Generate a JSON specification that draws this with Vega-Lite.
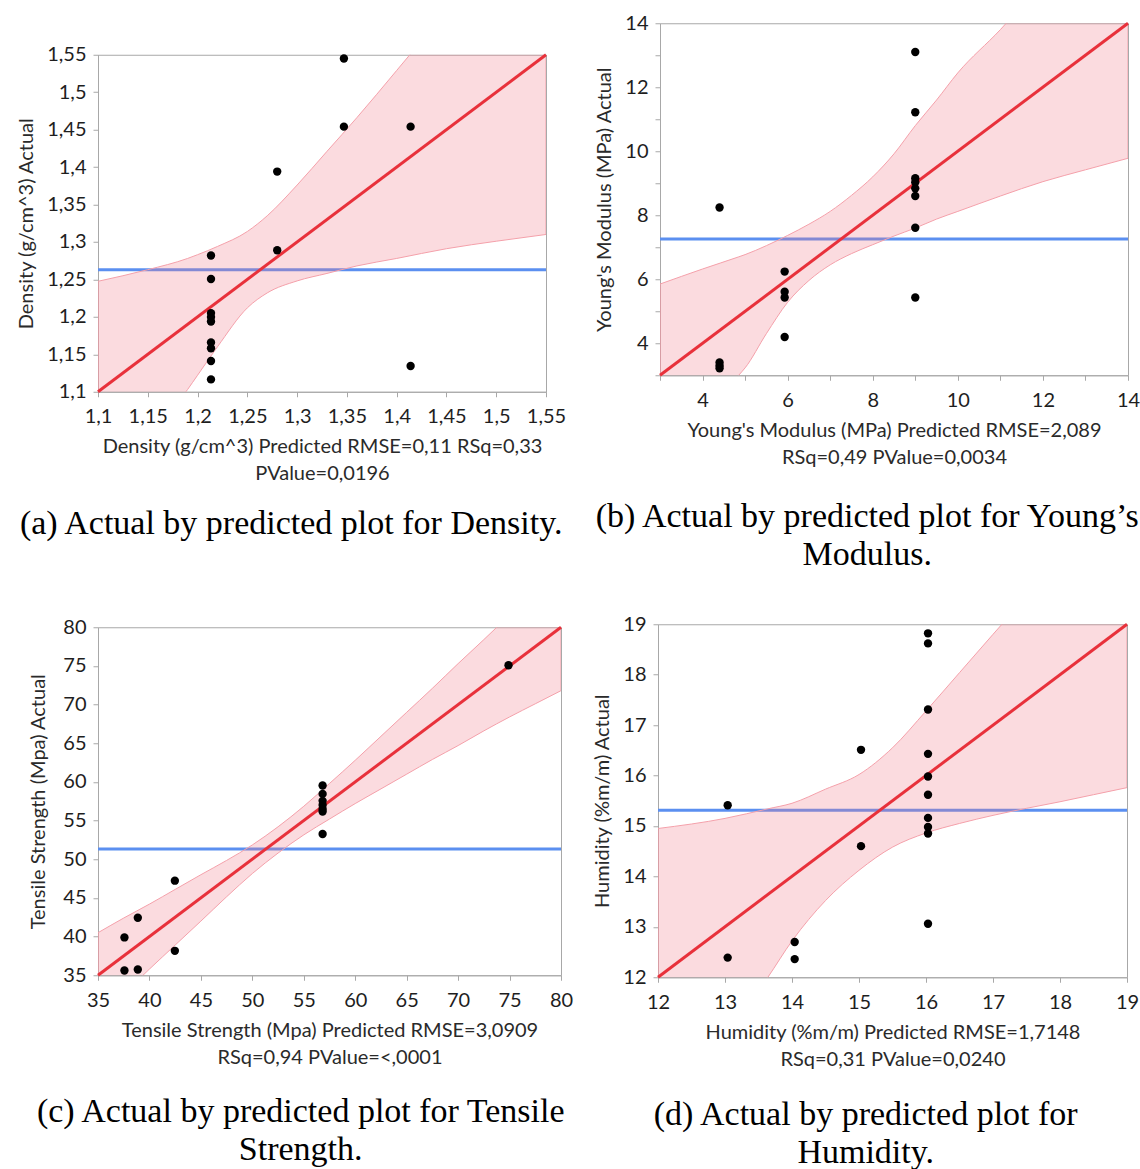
{
  "$schema": "https://vega.github.io/schema/vega-lite/v6.json",
  "padding": {"left": 16, "top": 12, "right": 0, "bottom": 0},
  "background": "white",
  "datasets": {
    "a_mean": [{"x": 1.1, "y": 1.263}, {"x": 1.55, "y": 1.263}],
    "a_diag": [{"x": 1.1, "y": 1.1}, {"x": 1.55, "y": 1.55}],
    "a_band": [
      {"x": 1.1, "y": 0.95, "hi": 1.2475}, {"x": 1.15, "y": 1.037, "hi": 1.263}, {"x": 1.19, "y": 1.103, "hi": 1.278},
      {"x": 1.2, "y": 1.122, "hi": 1.283}, {"x": 1.22, "y": 1.16, "hi": 1.294}, {"x": 1.25, "y": 1.212, "hi": 1.314},
      {"x": 1.27, "y": 1.232, "hi": 1.335}, {"x": 1.3, "y": 1.248, "hi": 1.376}, {"x": 1.33, "y": 1.258, "hi": 1.421},
      {"x": 1.36, "y": 1.268, "hi": 1.466}, {"x": 1.4, "y": 1.278, "hi": 1.529}, {"x": 1.45, "y": 1.291, "hi": 1.61},
      {"x": 1.5, "y": 1.301, "hi": 1.7}, {"x": 1.55, "y": 1.31, "hi": 1.79}
    ],
    "a_pts": [
      {"x": 1.347, "y": 1.545}, {"x": 1.347, "y": 1.454}, {"x": 1.414, "y": 1.454}, {"x": 1.28, "y": 1.394},
      {"x": 1.28, "y": 1.289}, {"x": 1.2135, "y": 1.282}, {"x": 1.2135, "y": 1.2506}, {"x": 1.2135, "y": 1.205},
      {"x": 1.2135, "y": 1.1997}, {"x": 1.2135, "y": 1.1938}, {"x": 1.2135, "y": 1.1657}, {"x": 1.2135, "y": 1.158},
      {"x": 1.2135, "y": 1.1411}, {"x": 1.2135, "y": 1.1165}, {"x": 1.414, "y": 1.1344}
    ],
    "b_mean": [{"x": 3, "y": 7.257}, {"x": 14, "y": 7.257}],
    "b_diag": [{"x": 3, "y": 3}, {"x": 14, "y": 14}],
    "b_band": [
      {"x": 3, "y": 0.15, "hi": 5.85}, {"x": 4, "y": 1.68, "hi": 6.32}, {"x": 4.85, "y": 3.0, "hi": 6.7},
      {"x": 5, "y": 3.23, "hi": 6.77}, {"x": 5.5, "y": 4.3, "hi": 7.05}, {"x": 6, "y": 5.28, "hi": 7.37},
      {"x": 6.5, "y": 5.96, "hi": 7.72}, {"x": 7, "y": 6.45, "hi": 8.12}, {"x": 7.5, "y": 6.8, "hi": 8.62},
      {"x": 8, "y": 7.08, "hi": 9.2}, {"x": 8.5, "y": 7.35, "hi": 9.92}, {"x": 9, "y": 7.6, "hi": 10.8},
      {"x": 9.5, "y": 7.88, "hi": 11.6}, {"x": 10, "y": 8.12, "hi": 12.45}, {"x": 11, "y": 8.6, "hi": 13.8},
      {"x": 12, "y": 9.05, "hi": 15.3}, {"x": 13, "y": 9.42, "hi": 16.75}, {"x": 14, "y": 9.78, "hi": 18.2}
    ],
    "b_pts": [
      {"x": 9.0, "y": 13.1}, {"x": 9.0, "y": 11.22}, {"x": 9.0, "y": 9.155}, {"x": 9.0, "y": 9.03},
      {"x": 9.0, "y": 8.84}, {"x": 9.0, "y": 8.6}, {"x": 9.0, "y": 7.61}, {"x": 9.0, "y": 5.43},
      {"x": 4.4, "y": 8.243}, {"x": 5.93, "y": 6.24}, {"x": 5.93, "y": 5.61}, {"x": 5.93, "y": 5.43},
      {"x": 5.93, "y": 4.195}, {"x": 4.4, "y": 3.4}, {"x": 4.4, "y": 3.3}, {"x": 4.4, "y": 3.22}
    ],
    "c_mean": [{"x": 35, "y": 51.33}, {"x": 80, "y": 51.33}],
    "c_diag": [{"x": 35, "y": 35}, {"x": 80, "y": 80}],
    "c_band": [
      {"x": 35, "y": 29.5, "hi": 40.5}, {"x": 37.5, "y": 32.6, "hi": 42.4}, {"x": 40, "y": 35.8, "hi": 44.2},
      {"x": 42.5, "y": 38.9, "hi": 46.1}, {"x": 45, "y": 42.0, "hi": 48.0}, {"x": 47.5, "y": 45.15, "hi": 49.85},
      {"x": 50, "y": 48.15, "hi": 51.85}, {"x": 52.5, "y": 50.8, "hi": 54.2}, {"x": 55, "y": 53.15, "hi": 56.85},
      {"x": 57.5, "y": 55.2, "hi": 59.8}, {"x": 60, "y": 57.2, "hi": 62.8}, {"x": 62.5, "y": 59.1, "hi": 65.9},
      {"x": 65, "y": 61.0, "hi": 69.0}, {"x": 67.5, "y": 62.9, "hi": 72.1}, {"x": 70, "y": 64.7, "hi": 75.3},
      {"x": 72.5, "y": 66.6, "hi": 78.4}, {"x": 75, "y": 68.4, "hi": 81.6}, {"x": 77.5, "y": 70.1, "hi": 84.9},
      {"x": 80, "y": 71.8, "hi": 88.2}
    ],
    "c_pts": [
      {"x": 74.9, "y": 75.08}, {"x": 56.83, "y": 59.53}, {"x": 56.83, "y": 58.45}, {"x": 56.83, "y": 57.55},
      {"x": 56.83, "y": 57.03}, {"x": 56.83, "y": 56.51}, {"x": 56.83, "y": 56.17}, {"x": 56.83, "y": 53.27},
      {"x": 42.47, "y": 47.23}, {"x": 42.47, "y": 38.16}, {"x": 38.87, "y": 42.44}, {"x": 38.87, "y": 35.74},
      {"x": 37.57, "y": 39.89}, {"x": 37.57, "y": 35.61}
    ],
    "d_mean": [{"x": 12, "y": 15.31}, {"x": 19, "y": 15.31}],
    "d_diag": [{"x": 12, "y": 12}, {"x": 19, "y": 19}],
    "d_band": [
      {"x": 12, "y": 9.05, "hi": 14.95}, {"x": 13, "y": 10.85, "hi": 15.15}, {"x": 13.64, "y": 12.0, "hi": 15.34},
      {"x": 14, "y": 12.72, "hi": 15.45}, {"x": 14.5, "y": 13.52, "hi": 15.73}, {"x": 15, "y": 14.12, "hi": 16.02},
      {"x": 15.5, "y": 14.58, "hi": 16.55}, {"x": 16, "y": 14.86, "hi": 17.28}, {"x": 16.5, "y": 15.05, "hi": 18.04},
      {"x": 17, "y": 15.21, "hi": 18.8}, {"x": 17.5, "y": 15.35, "hi": 19.55}, {"x": 18, "y": 15.48, "hi": 20.3},
      {"x": 18.5, "y": 15.62, "hi": 21.1}, {"x": 19, "y": 15.76, "hi": 21.8}
    ],
    "d_pts": [
      {"x": 16.03, "y": 18.82}, {"x": 16.03, "y": 18.62}, {"x": 16.03, "y": 17.31}, {"x": 16.03, "y": 16.43},
      {"x": 16.03, "y": 15.98}, {"x": 16.03, "y": 15.62}, {"x": 16.03, "y": 15.16}, {"x": 16.03, "y": 14.98},
      {"x": 16.03, "y": 14.85}, {"x": 16.03, "y": 13.06}, {"x": 15.03, "y": 16.51}, {"x": 15.03, "y": 14.6},
      {"x": 13.04, "y": 15.41}, {"x": 13.04, "y": 12.39}, {"x": 14.04, "y": 12.7}, {"x": 14.04, "y": 12.36}
    ]
  },
  "concat": [
    {
      "hconcat": [
        {
          "width": 448, "height": 337,
          "title": {"text": "(a) Actual by predicted plot for Density."},
          "encoding": {
            "x": {"field": "x", "type": "quantitative", "scale": {"domain": [1.1, 1.55], "nice": false, "zero": false},
                  "axis": {"title": ["Density (g/cm^3) Predicted RMSE=0,11 RSq=0,33", "PValue=0,0196"],
                           "values": [1.1, 1.15, 1.2, 1.25, 1.3, 1.35, 1.4, 1.45, 1.5, 1.55],
                           "labelExpr": "replace(format(datum.value, '.2~f'), '.', ',')"}},
            "y": {"field": "y", "type": "quantitative", "scale": {"domain": [1.1, 1.55], "nice": false, "zero": false},
                  "axis": {"title": "Density (g/cm^3) Actual",
                           "values": [1.1, 1.15, 1.2, 1.25, 1.3, 1.35, 1.4, 1.45, 1.5, 1.55],
                           "labelExpr": "replace(format(datum.value, '.2~f'), '.', ',')"}}
          },
          "layer": [
            {"data": {"name": "a_mean"}, "mark": {"type": "line", "color": "#5b8ff0", "strokeWidth": 3}, "encoding": {}},
            {"data": {"name": "a_band"}, "mark": {"type": "area", "clip": true, "interpolate": "monotone", "fill": "#f07a8a", "fillOpacity": 0.27, "stroke": "#f4a0aa", "strokeWidth": 1},
             "encoding": {"y2": {"field": "hi"}}},
            {"data": {"name": "a_diag"}, "mark": {"type": "line", "color": "#e8313b", "strokeWidth": 3}, "encoding": {}},
            {"data": {"name": "a_pts"}, "mark": {"type": "circle", "size": 70, "color": "black", "opacity": 1}}
          ]
        },
        {
          "width": 468, "height": 352,
          "title": {"text": ["(b) Actual by predicted plot for Young’s", "Modulus."], "offset": 33},
          "encoding": {
            "x": {"field": "x", "type": "quantitative", "scale": {"domain": [3, 14], "nice": false, "zero": false},
                  "axis": {"title": ["Young's Modulus (MPa) Predicted RMSE=2,089", "RSq=0,49 PValue=0,0034"],
                           "values": [3, 4, 5, 6, 7, 8, 9, 10, 11, 12, 13, 14],
                           "labelExpr": "datum.value % 2 == 0 ? datum.label : ''"}},
            "y": {"field": "y", "type": "quantitative", "scale": {"domain": [3, 14], "nice": false, "zero": false},
                  "axis": {"title": "Young's Modulus (MPa) Actual",
                           "values": [3, 4, 5, 6, 7, 8, 9, 10, 11, 12, 13, 14],
                           "labelExpr": "datum.value % 2 == 0 ? datum.label : ''"}}
          },
          "layer": [
            {"data": {"name": "b_mean"}, "mark": {"type": "line", "color": "#5b8ff0", "strokeWidth": 3}, "encoding": {}},
            {"data": {"name": "b_band"}, "mark": {"type": "area", "clip": true, "interpolate": "monotone", "fill": "#f07a8a", "fillOpacity": 0.27, "stroke": "#f4a0aa", "strokeWidth": 1},
             "encoding": {"y2": {"field": "hi"}}},
            {"data": {"name": "b_diag"}, "mark": {"type": "line", "color": "#e8313b", "strokeWidth": 3}, "encoding": {}},
            {"data": {"name": "b_pts"}, "mark": {"type": "circle", "size": 70, "color": "black", "opacity": 1}}
          ]
        }
      ],
      "spacing": 26,
      "center": true
    },
    {
      "hconcat": [
        {
          "width": 463, "height": 348,
          "title": {"text": ["(c) Actual by predicted plot for Tensile", "Strength."], "offset": 28},
          "encoding": {
            "x": {"field": "x", "type": "quantitative", "scale": {"domain": [35, 80], "nice": false, "zero": false},
                  "axis": {"title": ["Tensile Strength (Mpa) Predicted RMSE=3,0909", "RSq=0,94 PValue=<,0001"],
                           "values": [35, 40, 45, 50, 55, 60, 65, 70, 75, 80], "format": "d"}},
            "y": {"field": "y", "type": "quantitative", "scale": {"domain": [35, 80], "nice": false, "zero": false},
                  "axis": {"title": "Tensile Strength (Mpa) Actual", "titlePadding": 14,
                           "values": [35, 40, 45, 50, 55, 60, 65, 70, 75, 80], "format": "d"}}
          },
          "layer": [
            {"data": {"name": "c_mean"}, "mark": {"type": "line", "color": "#5b8ff0", "strokeWidth": 3}, "encoding": {}},
            {"data": {"name": "c_band"}, "mark": {"type": "area", "clip": true, "interpolate": "monotone", "fill": "#f07a8a", "fillOpacity": 0.27, "stroke": "#f4a0aa", "strokeWidth": 1},
             "encoding": {"y2": {"field": "hi"}}},
            {"data": {"name": "c_diag"}, "mark": {"type": "line", "color": "#e8313b", "strokeWidth": 3}, "encoding": {}},
            {"data": {"name": "c_pts"}, "mark": {"type": "circle", "size": 70, "color": "black", "opacity": 1}}
          ]
        },
        {
          "width": 469, "height": 353,
          "title": {"text": ["(d) Actual by predicted plot for", "Humidity."], "offset": 29},
          "encoding": {
            "x": {"field": "x", "type": "quantitative", "scale": {"domain": [12, 19], "nice": false, "zero": false},
                  "axis": {"title": ["Humidity (%m/m) Predicted RMSE=1,7148", "RSq=0,31 PValue=0,0240"],
                           "values": [12, 13, 14, 15, 16, 17, 18, 19], "format": "d"}},
            "y": {"field": "y", "type": "quantitative", "scale": {"domain": [12, 19], "nice": false, "zero": false},
                  "axis": {"title": "Humidity (%m/m) Actual",
                           "values": [12, 13, 14, 15, 16, 17, 18, 19], "format": "d"}}
          },
          "layer": [
            {"data": {"name": "d_mean"}, "mark": {"type": "line", "color": "#5b8ff0", "strokeWidth": 3}, "encoding": {}},
            {"data": {"name": "d_band"}, "mark": {"type": "area", "clip": true, "interpolate": "monotone", "fill": "#f07a8a", "fillOpacity": 0.27, "stroke": "#f4a0aa", "strokeWidth": 1},
             "encoding": {"y2": {"field": "hi"}}},
            {"data": {"name": "d_diag"}, "mark": {"type": "line", "color": "#e8313b", "strokeWidth": 3}, "encoding": {}},
            {"data": {"name": "d_pts"}, "mark": {"type": "circle", "size": 70, "color": "black", "opacity": 1}}
          ]
        }
      ],
      "spacing": 18,
      "center": true
    }
  ],
  "columns": 1,
  "spacing": 40,
  "align": "none",
  "config": {
    "view": {"stroke": "#a8a8a8", "strokeWidth": 1},
    "axis": {
      "grid": false, "domainColor": "#a8a8a8", "tickColor": "#a8a8a8", "tickSize": 5,
      "labelFont": "Lato", "labelFontSize": 20, "labelColor": "#1e1e1e", "labelPadding": 10,
      "labelFlush": false, "labelOverlap": false, "labelBound": false,
      "titleFont": "Lato", "titleFontSize": 20, "titleFontWeight": "normal", "titleColor": "#2a2a2a",
      "titleLineHeight": 27, "titlePadding": 10
    },
    "axisY": {"labelPadding": 7},
    "title": {
      "font": "Liberation Serif", "fontSize": 34, "fontWeight": "normal", "color": "black",
      "orient": "bottom", "anchor": "middle", "frame": "bounds", "offset": 23, "lineHeight": 38
    }
  }
}
